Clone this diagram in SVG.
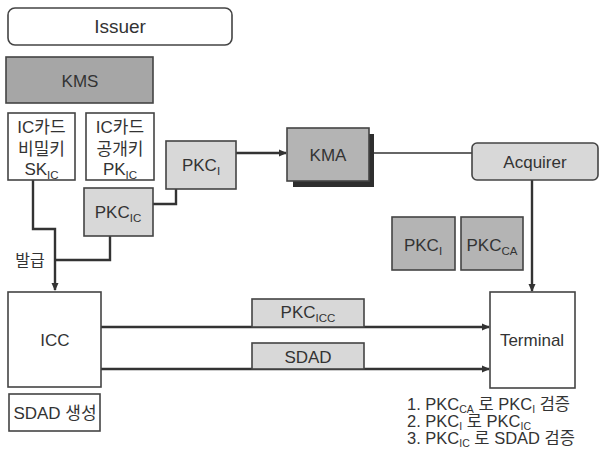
<svg xmlns="http://www.w3.org/2000/svg" width="600" height="459" viewBox="0 0 600 459">
  <defs>
    <marker id="arrow" markerWidth="8" markerHeight="8" refX="7" refY="4" orient="auto" markerUnits="userSpaceOnUse">
      <path d="M0,0.5 L8,4 L0,7.5 Z" fill="#333"/>
    </marker>
  </defs>
  <style>
    text { font-family: "Liberation Sans", "Noto Sans CJK KR", sans-serif; fill: #333; text-anchor: middle; }
    text.left { text-anchor: start; }
    .box { stroke: #444; stroke-width: 1.6; }
    .white { fill: #fff; }
    .light { fill: #d8d8d8; }
    .mid { fill: #b4b4b4; }
    .dark { fill: #a6a6a6; }
    .wire { fill: none; stroke: #333; stroke-width: 2.4; }
    .thin { fill: none; stroke: #333; stroke-width: 1.6; }
    .t16 { font-size: 16px; }
    .t17 { font-size: 17px; }
    .steps { font-size: 16.5px; }
    .sub { font-size: 11.5px; }
    .sub2 { font-size: 10.5px; }
  </style>

  <rect width="600" height="459" fill="#fff"/>

  <!-- connectors -->
  <g id="connectors">
    <path class="wire" d="M33,180 V229 H55 V290" marker-end="url(#arrow)"/>
    <path class="wire" d="M110,236 V260 H55"/>
    <path class="wire" d="M153,204 H176 V189"/>
    <path class="wire" d="M236,153 H286" marker-end="url(#arrow)"/>
    <path class="thin" d="M374,153 H472"/>
    <path class="wire" d="M532,180 V291" marker-end="url(#arrow)"/>
    <path class="wire" d="M101,327 H489" marker-end="url(#arrow)"/>
    <path class="wire" d="M101,369 H489" marker-end="url(#arrow)"/>
  </g>

  <g id="issuer">
    <rect class="box white" x="8" y="8" width="224" height="37" rx="7"/>
    <text x="120" y="33" font-size="19">Issuer</text>
  </g>

  <g id="kms">
    <rect class="box dark" x="6" y="57" width="147" height="46"/>
    <text class="t17" x="80" y="87">KMS</text>
  </g>

  <g id="sk-ic">
    <rect class="box white" x="8" y="113" width="67" height="67"/>
    <text class="t17" x="41.5" y="133">IC카드</text>
    <text class="t17" x="41.5" y="155">비밀키</text>
    <text class="t17" x="41.5" y="175">SK<tspan class="sub" dy="4">IC</tspan></text>
  </g>

  <g id="pk-ic">
    <rect class="box white" x="86" y="113" width="68" height="67"/>
    <text class="t17" x="120" y="133">IC카드</text>
    <text class="t17" x="120" y="155">공개키</text>
    <text class="t17" x="120" y="175">PK<tspan class="sub" dy="4">IC</tspan></text>
  </g>

  <g id="pkc-i-issuer">
    <rect class="box light" x="166" y="141" width="70" height="48"/>
    <text class="t17" x="201" y="171">PKC<tspan class="sub" dy="4">I</tspan></text>
  </g>

  <g id="pkc-ic">
    <rect class="box light" x="84" y="188" width="69" height="48"/>
    <text class="t17" x="118" y="218">PKC<tspan class="sub" dy="4">IC</tspan></text>
  </g>

  <text id="issue-label" class="t16" x="30" y="266">발급</text>

  <g id="kma">
    <rect x="293" y="134" width="81" height="53" fill="#2e2e2e"/>
    <rect class="box mid" x="287" y="128" width="82" height="53"/>
    <text class="t17" x="328" y="161">KMA</text>
  </g>

  <g id="acquirer">
    <rect class="box light" x="472" y="143" width="126" height="37" rx="5"/>
    <text class="t17" x="535" y="168">Acquirer</text>
  </g>

  <g id="pkc-i-terminal">
    <rect class="box mid" x="392" y="217" width="63" height="53"/>
    <text class="t17" x="423" y="251">PKC<tspan class="sub" dy="4">I</tspan></text>
  </g>

  <g id="pkc-ca">
    <rect class="box mid" x="461" y="217" width="62" height="53"/>
    <text class="t17" x="492" y="251">PKC<tspan class="sub" dy="4">CA</tspan></text>
  </g>

  <g id="icc">
    <rect class="box white" x="8" y="292" width="93" height="95"/>
    <text class="t17" x="55" y="346">ICC</text>
  </g>

  <g id="sdad-gen">
    <rect class="box white" x="9" y="394" width="91" height="37"/>
    <text class="t17" x="55" y="419">SDAD 생성</text>
  </g>

  <g id="pkc-icc">
    <rect class="box light" x="252" y="299" width="112" height="28"/>
    <text class="t17" x="308" y="318">PKC<tspan class="sub" dy="4">ICC</tspan></text>
  </g>

  <g id="sdad">
    <rect class="box light" x="252" y="343" width="112" height="26"/>
    <text class="t17" x="308" y="363">SDAD</text>
  </g>

  <g id="terminal">
    <rect class="box white" x="490" y="292" width="85" height="96"/>
    <text class="t17" x="532" y="346">Terminal</text>
  </g>

  <g id="verify-steps">
    <text class="steps left" x="407" y="410">1. PKC<tspan class="sub2" dy="3">CA</tspan><tspan dy="-3"> 로  PKC</tspan><tspan class="sub2" dy="3">I</tspan><tspan dy="-3"> 검증</tspan></text>
    <text class="steps left" x="407" y="427">2. PKC<tspan class="sub2" dy="3">I</tspan><tspan dy="-3"> 로 PKC</tspan><tspan class="sub2" dy="3">IC</tspan></text>
    <text class="steps left" x="407" y="444">3. PKC<tspan class="sub2" dy="3">IC</tspan><tspan dy="-3"> 로 SDAD 검증</tspan></text>
  </g>
</svg>
